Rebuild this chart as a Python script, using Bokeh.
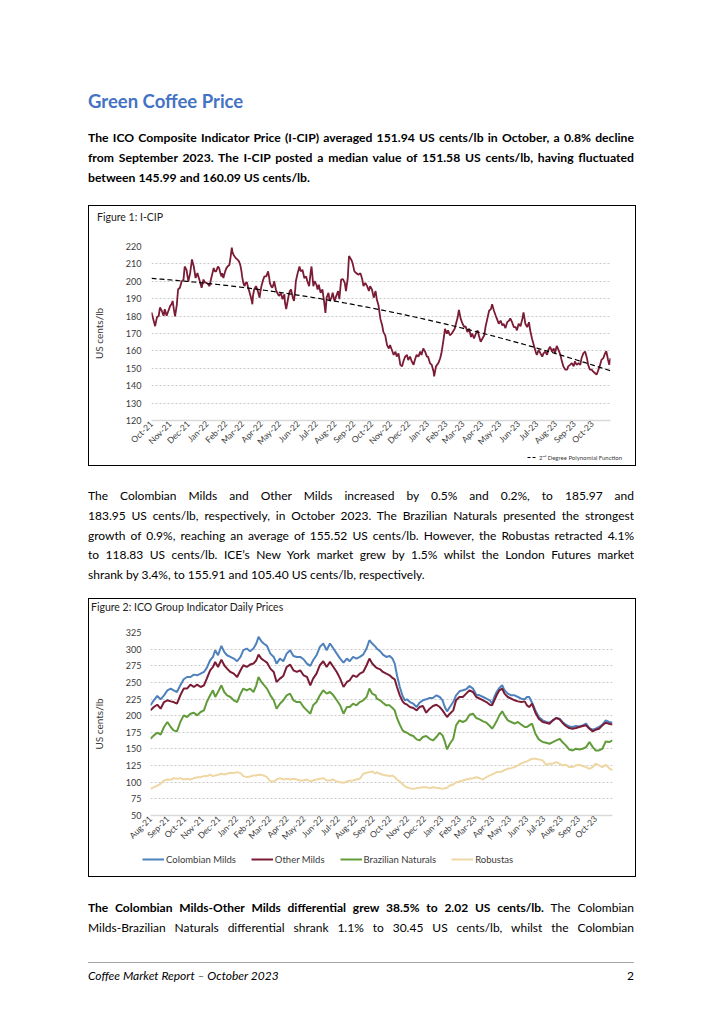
import numpy as np
import pandas as pd
from bokeh.plotting import figure
from bokeh.models import (Range1d, FixedTicker, DatetimeTickFormatter,
                          Legend, LegendItem, Div)
from bokeh.layouts import column
from bokeh.embed import file_html
from bokeh.resources import INLINE

FONT = "Lato"

# ---------------- Figure 1: I-CIP (days since 2021-10-01) ----------------
icip_start = "2021-10-01"
icip_days = [
    0, 6, 9, 12, 14, 17, 20, 22, 25, 28, 31, 33, 35, 37, 39, 42, 44, 47, 50, 53,
    55, 58, 61, 64, 67, 70, 73, 76, 80, 83, 86, 88, 91, 94, 96, 99, 101, 103, 105, 107,
    110, 112, 114, 116, 117, 119, 122, 124, 127, 129, 131, 133, 134, 136, 138, 140, 143, 145, 147, 149,
    150, 152, 154, 156, 158, 160, 161, 164, 166, 167, 168, 170, 173, 176, 179, 180, 182, 185, 187, 190,
    192, 193, 195, 196, 198, 200, 202, 203, 206, 208, 211, 213, 214, 217, 220, 221, 223, 224, 225, 227,
    229, 231, 234, 236, 238, 239,
    242, 245, 247, 250, 253, 256, 258, 261, 264, 265, 268, 270, 273, 275, 277, 280, 283, 286, 288, 290,
    293, 295, 298, 300, 303, 306, 309, 311, 314, 317, 320, 322, 325, 327, 331, 333, 336, 339, 343, 346,
    349, 351, 354, 357, 360, 362, 365, 368, 371, 373, 376, 379, 382, 384, 387, 390, 393, 395, 398, 401,
    404, 406, 409, 412, 415, 417, 420, 423, 425, 428, 431, 434, 436, 439, 442, 445, 447, 450, 453, 456,
    458, 461, 464, 467, 468, 471, 475, 478, 480, 483, 486, 489, 491, 494,
    497, 502, 507, 509, 512, 515, 518, 520, 523, 526, 529, 531, 534, 537, 540, 542, 545, 548, 551, 553,
    556, 559, 562, 564, 567, 570, 572, 575, 578, 581, 583, 586, 589, 592, 594, 597, 600, 603, 605, 608,
    611, 614, 616, 619, 622, 625, 627, 630, 633, 636, 638, 641, 644, 647, 649, 652, 655, 657, 660, 663,
    666, 668, 671, 674, 677, 679, 682, 685, 688, 690, 693, 696, 699, 701, 704, 707, 710, 712, 715, 718,
    721, 723, 726, 729, 731, 734, 737, 740, 742, 745, 748, 751, 753, 756, 758, 760,
]
icip_values = [
    182.1, 174.2, 179.3, 180.2, 184.9, 183.1, 180.2, 184.0, 180.2, 183.1,
    185.9, 186.8, 188.7, 184.0, 179.9, 186.8, 195.3, 196.3, 200.0, 201.0,
    208.5, 206.6, 200.0, 204.7, 212.6, 208.5, 201.9, 204.7, 200.0, 196.3,
    201.0, 199.5, 199.1, 198.2, 197.2, 201.9, 204.7, 207.6, 205.7, 205.7,
    208.5, 207.6, 204.7, 202.8, 204.7, 201.9, 205.7, 207.6, 208.9, 209.4,
    214.1, 219.4, 217.0, 215.1, 214.1, 213.2, 212.3, 211.3, 209.4, 205.7,
    202.8, 199.1, 197.2, 199.1, 199.5, 196.3, 195.3, 191.6, 188.7, 186.8,
    191.6, 195.3, 197.2, 194.4, 190.6, 193.4, 197.2, 201.0, 202.8, 202.8,
    204.7, 205.7, 201.9, 199.1, 197.2, 196.3, 198.2, 200.0, 195.3, 193.4,
    191.6, 192.5, 193.4, 189.7, 192.5, 187.8, 184.0, 185.9, 187.8, 191.6,
    194.4, 195.3, 190.6, 188.7, 195.3, 200.0,
    204.7, 208.5, 205.7, 206.6, 201.9, 202.8, 200.0, 197.2, 206.6, 208.5,
    197.2, 200.0, 198.1, 195.3, 198.1, 193.4, 195.3, 187.8, 181.8, 190.6,
    193.4, 188.7, 190.6, 193.4, 188.7, 191.6, 194.4, 189.7, 201.0, 201.3,
    199.1, 194.4, 201.9, 214.5, 212.3, 210.4, 205.7, 204.7, 203.8, 204.7,
    201.0, 197.2, 199.1, 197.2, 194.4, 197.2, 195.3, 190.6, 194.4, 189.7,
    185.9, 178.4, 174.6, 170.8, 168.9, 163.3, 161.4, 163.3, 160.5, 157.7,
    159.6, 156.7, 158.6, 152.0, 151.1, 153.9, 156.7, 157.7, 154.8, 156.7,
    153.9, 152.0, 154.8, 157.7, 156.7, 159.6, 157.7, 161.4, 159.6, 156.7,
    156.7, 153.0, 152.0, 148.2, 145.4, 151.1, 153.0, 155.8, 158.6, 165.2,
    172.7, 169.9, 171.8, 169.0,
    169.9, 172.7, 179.3, 183.6, 178.4, 175.6, 173.7, 174.2, 170.8, 172.7,
    168.0, 169.9, 167.1, 169.9, 171.8, 169.0, 165.2, 167.1, 169.0, 173.7,
    178.4, 183.1, 184.0, 186.8, 183.1, 180.2, 178.4, 175.6, 177.4, 174.6,
    175.6, 173.1, 176.5, 177.4, 178.7, 176.5, 173.7, 173.7, 171.8, 175.6,
    174.2, 178.4, 182.1, 175.6, 173.7, 176.5, 171.8, 167.1, 163.3, 159.6,
    157.7, 160.5, 158.6, 156.7, 158.6, 159.6, 157.7, 160.5, 162.4, 159.6,
    161.4, 158.6, 162.9, 160.5, 157.7, 154.8, 151.1, 149.2, 149.2, 151.1,
    152.0, 153.0, 151.1, 153.9, 152.0, 153.0, 152.0, 155.8, 158.6, 159.6,
    155.8, 152.0, 149.2, 149.2, 148.2, 147.3, 146.4, 149.2, 151.1, 154.8,
    155.8, 158.6, 159.9, 154.8, 152.0, 155.8,
]
icip_y_ticks = [120, 130, 140, 150, 160, 170, 180, 190, 200, 210, 220]

# ---------------- Figure 2: ICO group indicators (days since 2021-08-01) ----------------
group_start = "2021-08-01"
group_days = [
    0, 6, 12, 18, 24, 30, 36, 41, 47, 53, 59, 65, 71, 77, 83, 89, 95, 100, 106, 111,
    115, 120, 126, 131, 136, 142, 148, 154, 160, 165, 171, 177, 183, 188, 192, 197, 201, 207, 213, 219,
    224, 230, 236, 242, 248, 254, 260, 266, 272, 278, 284, 289, 295, 301, 307, 313, 319, 325, 331, 337,
    343, 349, 354, 360, 366, 372, 378, 384, 389, 394, 400,
    402, 408, 413, 419, 425, 430, 434, 438, 443, 448, 452, 456, 461, 467, 473, 478, 484, 490, 496, 502,
    508, 514, 519, 523, 527, 532, 538, 543, 549, 555, 561, 567, 573, 579, 585, 591, 597, 603, 607, 611,
    615, 620, 625, 629, 635, 641, 647, 653, 659, 665, 669, 673, 678, 684, 690, 697, 703, 709, 715, 721,
    727, 732, 738, 744, 750, 756, 762, 768, 774, 780, 786, 791, 797, 803, 809, 815, 821,
]
colombian_milds = [
    215.6, 223.1, 229.6, 224.6, 230.6, 238.1, 240.7, 238.1, 235.6, 245.7,
    254.7, 258.2, 258.2, 261.7, 260.7, 263.2, 265.7, 271.8, 283.3, 288.3,
    298.4, 290.8, 304.9, 295.9, 290.8, 288.3, 285.8, 281.8, 288.3, 298.4,
    300.9, 296.9, 300.9, 308.4, 318.4, 311.9, 308.4, 304.9, 293.3, 288.3,
    278.3, 285.8, 281.8, 293.3, 298.4, 289.8, 288.3, 288.3, 284.8, 278.3,
    274.8, 283.3, 290.8, 303.4, 308.4, 298.4, 308.4, 300.9, 293.3, 285.8,
    279.8, 285.8, 281.8, 288.3, 285.8, 288.3, 291.8, 300.9, 313.4, 308.4,
    303.4,
    300.9, 296.9, 291.8, 288.3, 289.8, 285.8, 278.3, 260.7, 243.1, 229.6,
    223.1, 224.6, 220.5, 218.0, 213.0, 219.5, 223.1, 224.6, 226.6, 226.6,
    230.6, 228.1, 223.1, 213.0, 206.5, 213.0, 220.5, 230.6, 236.6, 238.1,
    239.7, 244.7, 240.7, 231.6, 230.6, 228.1, 225.6, 223.1, 218.0, 228.1,
    235.6, 241.7, 245.7, 238.1, 233.1, 230.6, 230.6, 228.1, 225.6, 224.6,
    228.1, 228.1, 219.5, 208.0, 198.0, 193.0, 190.5, 189.5, 193.0, 196.5,
    195.5, 190.5, 186.5, 183.9, 183.0, 184.5, 183.9, 185.5, 188.0, 181.4,
    178.9, 180.4, 183.0, 186.5, 193.0, 190.5, 189.5,
]
other_milds = [
    208.0, 213.0, 216.5, 210.5, 220.5, 223.1, 221.5, 220.5, 218.0, 230.6,
    240.7, 240.7, 246.6, 243.1, 246.6, 243.1, 245.7, 255.7, 268.2, 273.2,
    280.8, 273.2, 284.3, 275.8, 270.7, 265.7, 263.2, 258.2, 268.2, 275.8,
    273.2, 276.8, 278.3, 283.3, 291.8, 285.8, 283.3, 279.8, 270.7, 265.7,
    250.7, 255.7, 259.7, 273.2, 276.8, 268.2, 265.7, 268.2, 260.7, 258.2,
    245.7, 255.7, 263.2, 275.8, 281.8, 273.2, 280.8, 273.2, 265.7, 255.7,
    243.1, 250.7, 253.2, 260.7, 258.2, 263.2, 265.7, 275.8, 285.8, 278.3,
    273.2,
    271.8, 269.7, 265.7, 263.2, 260.7, 256.7, 254.7, 243.1, 230.6, 221.5,
    218.0, 216.5, 213.0, 211.5, 208.0, 213.0, 214.6, 204.5, 210.5, 214.6,
    216.5, 213.0, 208.0, 203.0, 198.0, 203.0, 208.0, 223.1, 228.1, 228.1,
    233.1, 238.1, 235.6, 228.1, 225.6, 223.1, 220.5, 216.5, 215.5, 223.1,
    230.6, 238.1, 240.7, 233.1, 228.1, 225.6, 223.1, 221.5, 220.5, 221.5,
    215.5, 213.0, 218.0, 204.5, 195.5, 190.5, 189.5, 188.0, 193.0, 196.5,
    194.5, 189.5, 184.5, 181.4, 180.4, 181.4, 183.0, 184.5, 185.5, 180.4,
    176.4, 178.9, 180.4, 185.5, 189.5, 188.0, 186.5,
]
brazilian_naturals = [
    165.3, 170.4, 174.4, 171.4, 183.0, 190.5, 183.0, 177.9, 176.4, 190.5,
    200.5, 198.0, 203.0, 204.5, 200.5, 205.5, 208.0, 220.5, 230.6, 238.1,
    228.1, 235.6, 245.7, 235.6, 230.6, 228.1, 223.1, 220.5, 233.1, 240.7,
    238.1, 240.7, 235.6, 245.7, 258.2, 250.7, 246.6, 240.7, 230.6, 223.1,
    210.5, 218.0, 223.1, 230.6, 233.1, 223.1, 220.5, 220.5, 213.0, 208.0,
    203.0, 215.6, 220.5, 230.6, 238.1, 233.1, 235.6, 230.6, 223.1, 215.6,
    203.0, 213.0, 213.0, 218.0, 215.6, 220.5, 223.1, 228.1, 240.7, 233.1,
    230.6,
    225.6, 223.1, 219.5, 215.5, 215.5, 211.5, 208.0, 196.5, 186.5, 177.9,
    175.4, 174.4, 171.4, 169.4, 164.4, 162.8, 167.9, 169.4, 165.3, 162.8,
    167.9, 174.4, 170.4, 161.3, 149.3, 157.8, 165.3, 185.5, 193.0, 190.5,
    193.0, 201.5, 203.0, 196.5, 194.5, 191.5, 189.5, 184.5, 180.4, 185.5,
    191.5, 200.5, 206.5, 200.5, 193.0, 190.5, 188.0, 190.5, 186.5, 183.0,
    183.0, 185.5, 188.0, 172.9, 164.4, 160.4, 159.4, 157.8, 160.4, 162.8,
    165.3, 160.4, 155.4, 149.3, 147.8, 150.3, 149.3, 150.3, 152.8, 160.4,
    152.8, 147.8, 147.8, 150.3, 161.3, 160.4, 162.8,
]
robustas = [
    90.0, 92.5, 95.0, 97.6, 102.6, 104.1, 103.6, 106.1, 105.1, 106.1,
    104.1, 105.1, 104.1, 106.1, 107.6, 107.6, 109.2, 109.2, 111.2, 109.2,
    110.2, 111.2, 112.7, 111.7, 112.7, 114.2, 113.7, 115.2, 113.7, 109.2,
    107.6, 108.7, 110.2, 110.2, 111.2, 110.7, 110.2, 107.6, 101.1, 101.1,
    104.1, 106.1, 104.1, 105.1, 104.1, 105.1, 104.1, 102.6, 102.6, 104.1,
    101.1, 102.6, 104.1, 105.1, 106.1, 102.6, 102.6, 104.1, 101.1, 100.1,
    99.1, 101.1, 102.1, 102.6, 104.1, 105.1, 112.7, 114.2, 115.2, 116.2,
    112.7,
    115.2, 112.7, 111.2, 110.2, 109.2, 110.2, 107.6, 104.1, 101.1, 97.1,
    94.1, 92.1, 91.1, 90.0, 91.1, 91.6, 92.5, 92.5, 91.1, 92.5,
    91.6, 91.1, 90.0, 91.1, 91.6, 95.0, 96.6, 100.1, 101.1, 102.6,
    104.1, 105.1, 106.1, 107.6, 106.1, 104.1, 107.6, 110.2, 111.7, 113.2,
    115.2, 115.2, 116.2, 118.2, 120.2, 121.2, 122.7, 125.2, 128.3, 130.3,
    131.3, 133.3, 135.3, 135.3, 134.3, 132.8, 126.2, 127.8, 127.8, 130.3,
    127.8, 125.2, 126.2, 122.7, 122.7, 125.2, 126.2, 124.2, 122.7, 120.2,
    122.7, 127.8, 125.2, 122.7, 126.2, 121.2, 117.7,
]
group_names = ["Colombian Milds", "Other Milds", "Brazilian Naturals", "Robustas"]
group_y_ticks = [50, 75, 100, 125, 150, 175, 200, 225, 250, 275, 300, 325]

MAROON = "#7A1C35"
BLUE = "#4F81BD"
GREEN = "#629C3A"
TAN = "#EFD7A4"
GRID = "#C9C9C9"
AXIS = "#D9D9D9"
TXT = "#3A3A3A"


def no_frame_align(p):
    if "frame_align" in p.properties():
        p.frame_align = False


def to_dates(start, days):
    return pd.Timestamp(start) + pd.to_timedelta(np.asarray(days), unit="D")


def month_ticks(start, end):
    idx = pd.date_range(start, end, freq="MS")
    return [d.timestamp() * 1000.0 for d in idx]


def base_chart(width, height, x_start, x_end, y0, y1, yticks, borders, tick_start, tick_end):
    left, right, top, bottom = borders
    p = figure(width=width, height=height, output_backend="svg", toolbar_location=None,
               x_axis_type="datetime",
               x_range=Range1d(pd.Timestamp(x_start), pd.Timestamp(x_end)),
               y_range=Range1d(y0, y1),
               min_border_left=left, min_border_right=right,
               min_border_top=top, min_border_bottom=bottom, margin=0)
    no_frame_align(p)
    p.outline_line_color = None
    p.background_fill_color = "white"
    p.border_fill_color = "white"
    p.xgrid.grid_line_color = None
    p.ygrid.grid_line_color = GRID
    p.ygrid.grid_line_dash = "2 2"
    p.ygrid.grid_line_width = 1
    p.ygrid.ticker = FixedTicker(ticks=yticks)

    ax = p.xaxis[0]
    ax.ticker = FixedTicker(ticks=month_ticks(tick_start, tick_end), minor_ticks=[])
    fmt = "%b-%y"
    ax.formatter = DatetimeTickFormatter(microseconds=fmt, milliseconds=fmt, seconds=fmt,
                                         minsec=fmt, minutes=fmt, hourmin=fmt, hours=fmt,
                                         days=fmt, months=fmt, years=fmt)
    ax.major_label_orientation = np.pi / 4
    ax.major_tick_in = 0
    ax.major_tick_out = 0
    ax.minor_tick_in = 0
    ax.minor_tick_out = 0
    ax.axis_line_color = AXIS
    ax.axis_line_width = 1.5
    ax.major_label_text_font = FONT
    ax.major_label_text_font_size = "8.5px"
    ax.major_label_text_color = TXT
    ax.major_label_standoff = 2

    ay = p.yaxis[0]
    ay.ticker = FixedTicker(ticks=yticks, minor_ticks=[])
    ay.axis_line_color = None
    ay.major_tick_in = 0
    ay.major_tick_out = 0
    ay.minor_tick_in = 0
    ay.minor_tick_out = 0
    ay.major_label_text_font = FONT
    ay.major_label_text_font_size = "9px"
    ay.major_label_text_color = TXT
    ay.major_label_standoff = 10
    ay.axis_label = "US cents/lb"
    ay.axis_label_text_font = FONT
    ay.axis_label_text_font_style = "normal"
    ay.axis_label_text_font_size = "10px"
    ay.axis_label_text_color = TXT
    ay.axis_label_standoff = 18
    return p


def legend_strip(height, series, location, glyph_w, item_h, font_size, spacing, orientation):
    """A frame-only figure carrying the legend; its lines lie outside the strip's view."""
    lf = figure(width=546, height=height, output_backend="svg", toolbar_location=None,
                x_range=Range1d(0, 1), y_range=Range1d(0, 1), min_border=0, margin=0,
                x_axis_location=None, y_axis_location=None)
    no_frame_align(lf)
    lf.grid.visible = False
    lf.outline_line_color = None
    lf.background_fill_color = "white"
    lf.border_fill_color = "white"
    items = []
    for name, xs, ys, c, d, w in series:
        r = lf.line(x=xs, y=ys, line_color=c, line_dash=d, line_width=w)
        items.append(LegendItem(label=name, renderers=[r]))
    leg = Legend(items=items, orientation=orientation, location=location,
                 glyph_width=glyph_w, glyph_height=item_h, label_height=item_h,
                 label_standoff=2, spacing=spacing, padding=0, margin=0,
                 border_line_color=None, background_fill_alpha=0,
                 label_text_font=FONT, label_text_font_size=font_size,
                 label_text_color=TXT, label_text_baseline="middle")
    lf.add_layout(leg)
    return lf


def title_div(text, h, pad):
    return Div(text=f'<div style="padding-left:{pad}px;height:{h}px;line-height:{h}px;'
                    f'font-family:Lato,sans-serif;font-size:10.5px;color:#222;'
                    f'white-space:nowrap;">{text}</div>', width=546, height=h, margin=0)


BOX = {"border": "1px solid black", "background-color": "white"}

# ---------- chart 1 ----------
p1 = base_chart(546, 225, "2021-10-01", "2023-10-31", 120, 220, icip_y_ticks,
                (59, 25, 18, 30), "2021-10-01", "2023-10-01")
icip_dates = to_dates(icip_start, icip_days)
p1.line(icip_dates, icip_values, line_color=MAROON, line_width=1.8)
icip_x = np.asarray(icip_days, dtype=float)
coef = np.polyfit(icip_x, np.asarray(icip_values), 2)
trend = np.polyval(coef, icip_x)
p1.line(icip_dates, trend, line_color="black", line_width=1.2, line_dash="5 3")
lg1 = legend_strip(12, [("2ⁿᵈ Degree Polynomial Function", icip_x, trend, "black", "3 2", 1.2)],
                   (438, 4), 10, 8, "6px", 0, "vertical")
box1 = column(title_div("Figure 1: I-CIP", 22, 8), p1, lg1, spacing=0,
              margin=(0, 0, 0, 88), styles=BOX)

# ---------- chart 2 ----------
p2 = base_chart(546, 235, "2021-08-01", "2023-10-31", 50, 325, group_y_ticks,
                (59, 23, 17, 35), "2021-08-01", "2023-10-01")
p2.yaxis[0].major_label_standoff = 9
group_dates = to_dates(group_start, group_days)
group_colors = [BLUE, MAROON, GREEN, TAN]
group_series = [colombian_milds, other_milds, brazilian_naturals, robustas]
for vals, col in zip(group_series, group_colors):
    p2.line(group_dates, vals, line_color=col, line_width=2.0)
gx = np.asarray(group_days, dtype=float)
lg2 = legend_strip(26, [(n, gx, v, c, "solid", 2.0)
                        for n, v, c in zip(group_names, group_series, group_colors)],
                   (53, 10), 22, 14, "9.5px", 15, "horizontal")
box2 = column(title_div("Figure 2: ICO Group Indicator Daily Prices", 16, 2), p2, lg2,
              spacing=0, margin=(0, 0, 0, 88), styles=BOX)

# ---------- text blocks ----------
LH = 19.8


def lines_html(lines, size, bold=False, last_justified=False):
    out = []
    n = len(lines)
    for i, ln in enumerate(lines):
        just = (i < n - 1) or last_justified
        align = "text-align:justify;text-align-last:justify;" if just else "text-align:left;"
        out.append(f'<div style="height:{LH}px;line-height:{LH}px;overflow:hidden;'
                   f'font-size:{size}px;{"font-weight:bold;" if bold else ""}{align}">{ln}</div>')
    return "".join(out)


WRAP = 'style="margin-left:88px;width:546px;font-family:Lato,sans-serif;color:#000;"'

p1_lines = [
    "The ICO Composite Indicator Price (I-CIP) averaged 151.94 US cents/lb in October, a 0.8% decline",
    "from September 2023. The I-CIP posted a median value of 151.58 US cents/lb, having fluctuated",
    "between 145.99 and 160.09 US cents/lb.",
]
top_html = (f'<div {WRAP}>'
            '<div style="height:89px"></div>'
            '<div style="height:24px;line-height:24px;font-size:18.5px;font-weight:bold;color:#4472C4;">'
            'Green Coffee Price</div>'
            '<div style="height:15px"></div>'
            + lines_html(p1_lines, 12.2, bold=True) + '</div>')

p2_lines = [
    "The Colombian Milds and Other Milds increased by 0.5% and 0.2%, to 185.97 and",
    "183.95 US cents/lb, respectively, in October 2023. The Brazilian Naturals presented the strongest",
    "growth of 0.9%, reaching an average of 155.52 US cents/lb. However, the Robustas retracted 4.1%",
    "to 118.83 US cents/lb. ICE’s New York market grew by 1.5% whilst the London Futures market",
    "shrank by 3.4%, to 155.91 and 105.40 US cents/lb, respectively.",
]
mid_html = (f'<div {WRAP}><div style="height:20px"></div>' + lines_html(p2_lines, 12) + '</div>')

p3_lines = [
    "<b>The Colombian Milds-Other Milds differential grew 38.5% to 2.02 US cents/lb.</b> The Colombian",
    "Milds-Brazilian Naturals differential shrank 1.1% to 30.45 US cents/lb, whilst the Colombian",
]
bot_html = (f'<div {WRAP}><div style="height:21px"></div>'
            + lines_html(p3_lines, 12, last_justified=True)
            + '<div style="height:24px"></div>'
            '<div style="height:0px;border-top:1px solid #A6A6A6;"></div>'
            '<div style="height:3px"></div>'
            '<div style="height:20px;line-height:20px;font-size:12px;display:flex;'
            'justify-content:space-between;">'
            '<span style="font-style:italic;">Coffee Market Report – October 2023</span>'
            '<span>2</span></div></div>')

div_top = Div(text=top_html, width=716, height=205, margin=0)
div_mid = Div(text=mid_html, width=716, height=132, margin=0)
div_bot = Div(text=bot_html, width=716, height=139, margin=0)

page = column(div_top, box1, div_mid, box2, div_bot, spacing=0)

open("out.html", "w").write(file_html(page, INLINE))
